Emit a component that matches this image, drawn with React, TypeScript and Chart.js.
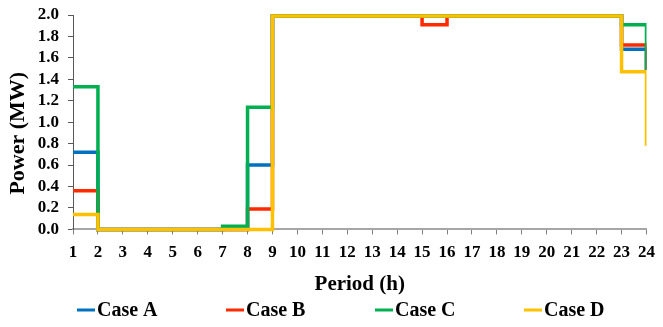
import React, { useEffect, useRef } from "react";
import { Chart, registerables } from "chart.js";

Chart.register(...registerables);

const periods = [1, 2, 3, 4, 5, 6, 7, 8, 9, 10, 11, 12, 13, 14, 15, 16, 17, 18, 19, 20, 21, 22, 23, 24];
const caseA = [0.72, 0, 0, 0, 0, 0, 0, 0.6, 1.99, 1.99, 1.99, 1.99, 1.99, 1.99, 1.99, 1.99, 1.99, 1.99, 1.99, 1.99, 1.99, 1.99, 1.68, 1.49];
const caseB = [0.36, 0, 0, 0, 0, 0, 0, 0.19, 1.99, 1.99, 1.99, 1.99, 1.99, 1.99, 1.91, 1.99, 1.99, 1.99, 1.99, 1.99, 1.99, 1.99, 1.72, 1.49];
const caseC = [1.33, 0, 0, 0, 0, 0, 0.03, 1.14, 1.99, 1.99, 1.99, 1.99, 1.99, 1.99, 1.99, 1.99, 1.99, 1.99, 1.99, 1.99, 1.99, 1.99, 1.91, 1.49];
const caseD = [0.14, 0, 0, 0, 0, 0, 0, 0, 1.99, 1.99, 1.99, 1.99, 1.99, 1.99, 1.99, 1.99, 1.99, 1.99, 1.99, 1.99, 1.99, 1.99, 1.47, 0.78];
const seriesNames = ["Case A", "Case B", "Case C", "Case D"];
const seriesColors = ["#0070C0", "#FF2A00", "#00B050", "#FFC000"];
const yTicks = [0, 0.2, 0.4, 0.6, 0.8, 1.0, 1.2, 1.4, 1.6, 1.8, 2.0];

const FONT = '"Liberation Serif", "Times New Roman", serif';

const legendPlugin = {
  id: "customLegend",
  afterDraw(chart: any) {
    const ctx = chart.ctx;
    const left = 77;
    const pitch = 149;
    const y = chart.height - 17;
    ctx.save();
    chart.data.datasets.forEach((ds: any, i: number) => {
      const x = left + i * pitch;
      ctx.strokeStyle = ds.borderColor;
      ctx.lineWidth = 3;
      ctx.beginPath();
      ctx.moveTo(x, y);
      ctx.lineTo(x + 18, y);
      ctx.stroke();
      ctx.fillStyle = "#000";
      ctx.font = `bold 20px ${FONT}`;
      ctx.textBaseline = "middle";
      ctx.textAlign = "left";
      ctx.fillText(ds.label, x + 20, y + 1);
    });
    ctx.restore();
  },
};

export default function App() {
  const ref = useRef<HTMLCanvasElement | null>(null);
  useEffect(() => {
    if (!ref.current) return;
    const all = [caseA, caseB, caseC, caseD];
    const chart = new Chart(ref.current, {
      type: "line",
      data: {
        datasets: all.map((vals, i) => ({
          label: seriesNames[i],
          data: periods.map((p, j) => ({ x: p, y: vals[j] })),
          borderColor: seriesColors[i],
          backgroundColor: seriesColors[i],
          borderWidth: 3.5,
          pointRadius: 0,
          stepped: true,
          fill: false,
          order: 3 - i,
          clip: { left: 5, top: 5, right: 0, bottom: 5 },
        })),
      },
      options: {
        animation: false,
        responsive: false,
        maintainAspectRatio: false,
        devicePixelRatio: 1,
        layout: { padding: { left: 0, right: 8, top: 15, bottom: 30 } },
        plugins: {
          legend: { display: false },
          tooltip: { enabled: false },
        },
        scales: {
          x: {
            type: "linear",
            min: 1,
            max: 24,
            ticks: {
              stepSize: 1,
              autoSkip: false,
              maxRotation: 0,
              color: "#000",
              padding: 8,
              font: { family: FONT, size: 17, weight: "bold" },
            },
            grid: { display: true, drawOnChartArea: false, tickLength: 5, color: "#7f7f7f", lineWidth: 1 },
            border: { display: true, color: "#a6a6a6", width: 2 },
            title: {
              display: true,
              text: "Period (h)",
              color: "#000",
              padding: { top: 1, bottom: 0 },
              font: { family: FONT, size: 21, weight: "bold" },
            },
          },
          y: {
            min: 0,
            max: 2,
            afterBuildTicks: (scale: any) => {
              scale.ticks = yTicks.map((v) => ({ value: v }));
            },
            afterFit: (scale: any) => {
              scale.width = 73;
              scale.paddingTop = 0;
              scale.paddingBottom = 0;
            },
            ticks: {
              autoSkip: false,
              color: "#000",
              padding: 9,
              callback: (v: any) => Number(v).toFixed(1),
              font: { family: FONT, size: 17, weight: "bold" },
            },
            grid: { display: true, drawOnChartArea: false, tickLength: 5, color: "#595959", lineWidth: 1 },
            border: { display: true, color: "#595959", width: 1 },
            title: {
              display: true,
              text: "Power (MW)    ",
              color: "#000",
              padding: { top: 5, bottom: 0 },
              font: { family: FONT, size: 22, weight: "bold" },
            },
          },
        },
      },
      plugins: [legendPlugin],
    } as any);
    return () => chart.destroy();
  }, []);
  return (
    <div style={{ position: "fixed", left: 0, top: 0, width: 663, height: 327, background: "#fff" }}>
      <canvas ref={ref} width={663} height={327} style={{ width: 663, height: 327, display: "block" }} />
    </div>
  );
}
